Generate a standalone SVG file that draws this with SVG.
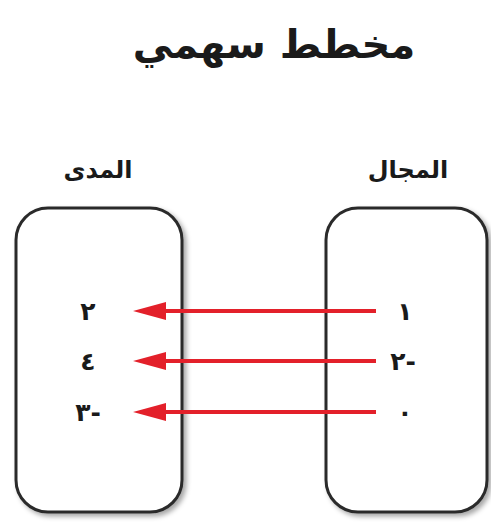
<svg xmlns="http://www.w3.org/2000/svg" width="491" height="531" viewBox="0 0 491 531">
<defs>
<filter id="sh" x="-10%" y="-10%" width="130%" height="130%">
<feDropShadow dx="3" dy="3" stdDeviation="2.5" flood-color="#000" flood-opacity="0.35"/>
</filter>
</defs>
<style>
.box{fill:#fff;stroke:#2a2a2a;stroke-width:3}
.t{font-family:"DejaVu Sans",sans-serif;font-weight:bold;fill:#1a1a1a;text-anchor:middle}
.num{font-size:25px}
.lbl{font-size:24px}
.arr{stroke:#e3202a;stroke-width:4;fill:none}
.head{fill:#e3202a}
</style>
<rect width="491" height="531" fill="#fff"/>
<text class="t" x="274" y="58" font-size="40" direction="rtl">مخطط سهمي</text>
<g id="range">
<rect class="box" x="16" y="208" width="166" height="304" rx="32" filter="url(#sh)"/>
<text class="t lbl" x="98" y="178" direction="rtl">المدى</text>
<text class="t num" x="88" y="320">٢</text>
<text class="t num" x="88" y="370">٤</text>
<text class="t num" x="88" y="421" direction="ltr">٣-</text>
</g>
<g id="domain">
<rect class="box" x="326" y="208" width="161" height="304" rx="32" filter="url(#sh)"/>
<text class="t lbl" x="408" y="178" direction="rtl">المجال</text>
<text class="t num" x="405" y="320">١</text>
<text class="t num" x="403" y="370" direction="ltr">٢-</text>
<text class="t num" x="405" y="421">٠</text>
</g>
<g id="connectors">
<path class="arr" d="M376,311 H165"/>
<path class="head" d="M133,311 L166,302 L166,320 Z"/>
<path class="arr" d="M376,361 H165"/>
<path class="head" d="M133,361 L166,352 L166,370 Z"/>
<path class="arr" d="M376,412 H165"/>
<path class="head" d="M133,412 L166,403 L166,421 Z"/>
</g>
</svg>
